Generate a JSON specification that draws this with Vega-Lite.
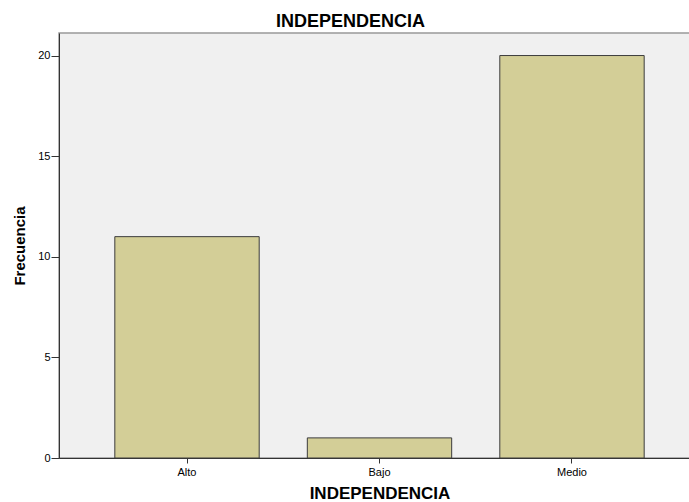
{
  "$schema": "https://vega.github.io/schema/vega-lite/v6.json",
  "width": 641,
  "height": 425,
  "autosize": "none",
  "padding": {"left": 59, "top": 33, "right": 0, "bottom": 44},
  "background": "white",
  "title": {
    "text": "INDEPENDENCIA",
    "font": "Liberation Sans",
    "fontSize": 18,
    "fontWeight": "bold",
    "color": "#000000",
    "anchor": "middle",
    "dx": -29,
    "dy": 19,
    "offset": 3,
    "baseline": "bottom"
  },
  "data": {
    "values": [
      {"nivel": "Alto", "frecuencia": 11},
      {"nivel": "Bajo", "frecuencia": 1},
      {"nivel": "Medio", "frecuencia": 20}
    ]
  },
  "mark": {"type": "bar", "fill": "#d3ce97", "stroke": "#3c3c3c", "strokeWidth": 1},
  "encoding": {
    "x": {
      "field": "nivel",
      "type": "nominal",
      "sort": ["Alto", "Bajo", "Medio"],
      "scale": {"paddingInner": 0.25, "paddingOuter": 0.29},
      "axis": {
        "title": "INDEPENDENCIA",
        "labelAngle": 0,
        "tickSize": 5,
        "labelPadding": 3,
        "titlePadding": 8,
        "titleFontSize": 17
      }
    },
    "y": {
      "field": "frecuencia",
      "type": "quantitative",
      "scale": {"domain": [0, 21.12], "nice": false},
      "axis": {
        "title": "Frecuencia",
        "values": [0, 5, 10, 15, 20],
        "tickSize": 8,
        "labelPadding": 1,
        "titlePadding": 10,
        "titleFontSize": 15,
        "grid": false
      }
    }
  },
  "config": {
    "view": {"fill": "#f0f0f0", "stroke": "#999999", "strokeWidth": 1.5},
    "axis": {
      "labelFont": "Liberation Sans",
      "labelFontSize": 11,
      "labelColor": "#000000",
      "titleFont": "Liberation Sans",
      "titleFontWeight": "bold",
      "titleColor": "#000000",
      "domainColor": "#333333",
      "tickColor": "#333333",
      "domainWidth": 1,
      "tickWidth": 1,
      "grid": false
    }
  }
}
